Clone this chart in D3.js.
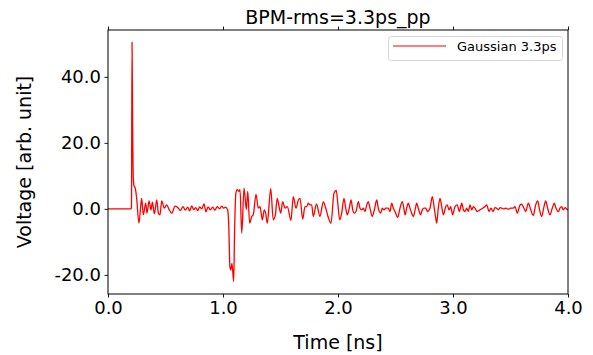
<!DOCTYPE html>
<html>
<head>
<meta charset="utf-8">
<script src="https://cdn.jsdelivr.net/npm/d3@7"></script>
<style>
  body { margin: 0; background: #fff; }
  svg { display: block; font-family: "DejaVu Sans", sans-serif; }
</style>
</head>
<body>
<div id="chart"></div>
<script>
// signal: [time ns, voltage arb. unit]
const gaussian33 = [
  [0,0],[0.200,0],[0.204,0.5],[0.209,50.5],[0.214,25],[0.219,10],[0.226,7],[0.237,6.3],
  [0.249,3.2],[0.269,-4.3],[0.284,0.7],[0.293,3.2],[0.307,-1.8],[0.328,1.7],[0.339,-1.3],
  [0.357,2.4],[0.374,-0.3],[0.386,2.0],[0.403,-1.5],[0.424,2.7],[0.438,-1.3],[0.452,-1.8],
  [0.467,2.4],[0.490,0.2],[0.510,1.2],[0.533,-0.3],[0.554,-1.3],[0.583,0.8],[0.606,0.4],
  [0.630,-0.5],[0.652,0.7],[0.672,-0.4],[0.693,0.5],[0.710,-0.6],[0.728,0.9],[0.745,-0.2],
  [0.762,0.4],[0.780,-0.5],[0.797,0.6],[0.815,0.0],[0.835,1.5],[0.852,-0.9],[0.870,0.6],
  [0.890,-0.3],[0.910,0.5],[0.930,-0.4],[0.950,0.7],[0.970,0.0],[0.990,0.8],[1.005,0.2],
  [1.020,0.5],[1.040,-0.3],[1.050,-5],[1.060,-17.5],[1.068,-18.5],[1.078,-16.5],[1.093,-22],
  [1.100,-8],[1.112,4.8],[1.124,5.8],[1.139,5.3],[1.148,5.8],[1.163,-7.4],[1.183,6.3],
  [1.203,-0.2],[1.215,5.3],[1.232,-4.3],[1.250,-2.3],[1.263,-1.8],[1.287,4.4],[1.307,0.2],
  [1.322,0.7],[1.342,-3.3],[1.359,-0.3],[1.371,-1.3],[1.385,-4.3],[1.415,6.1],[1.437,-3.3],
  [1.455,-1.8],[1.472,3.2],[1.490,0.2],[1.502,-1.3],[1.519,2.2],[1.539,0.2],[1.559,0.7],
  [1.591,-3.5],[1.611,3.7],[1.635,0.2],[1.655,2.7],[1.670,3.2],[1.693,-3.1],[1.713,0.7],
  [1.728,0.7],[1.742,1.7],[1.757,1.2],[1.771,1.2],[1.785,-2.3],[1.813,1.5],[1.843,-2.3],
  [1.872,2.1],[1.891,0.5],[1.913,-2.3],[1.939,-4.4],[1.965,4.7],[1.985,5.6],[2.000,1.0],
  [2.015,-3.3],[2.032,-1.3],[2.052,3.2],[2.067,0.2],[2.081,-1.8],[2.098,0.2],[2.113,2.7],
  [2.128,-0.3],[2.142,-1.3],[2.157,-0.8],[2.177,2.2],[2.191,0.2],[2.206,-0.3],[2.220,0.2],
  [2.235,-0.8],[2.250,1.2],[2.263,2.2],[2.278,0.2],[2.298,-2.3],[2.316,-0.3],[2.337,2.7],
  [2.350,0.2],[2.371,-1.3],[2.385,0.2],[2.400,-0.3],[2.415,0.2],[2.437,0.2],[2.452,-0.8],
  [2.467,1.7],[2.481,0.2],[2.496,-0.8],[2.519,-2.6],[2.539,0.2],[2.559,2.2],[2.577,-0.8],
  [2.583,-1.8],[2.597,0.2],[2.611,1.7],[2.626,0.2],[2.641,-1.3],[2.655,-2.3],[2.676,0.7],
  [2.684,1.7],[2.698,0.2],[2.719,-1.8],[2.733,-0.3],[2.748,0.2],[2.763,0.2],[2.777,-0.8],
  [2.800,0.2],[2.820,3.7],[2.837,0.2],[2.850,-2.8],[2.858,-4.3],[2.872,0.2],[2.887,3.2],
  [2.902,0.7],[2.916,-1.8],[2.937,0.7],[2.950,1.2],[2.965,-0.3],[2.980,0.7],[2.997,-1.8],
  [3.017,0.7],[3.037,1.2],[3.055,-0.8],[3.076,1.7],[3.090,-0.3],[3.104,-0.8],[3.119,0.2],
  [3.133,-0.8],[3.148,1.2],[3.163,-0.3],[3.177,0.7],[3.191,0.2],[3.211,-0.8],[3.235,-0.3],
  [3.258,0.2],[3.278,0.7],[3.293,1.2],[3.313,-0.8],[3.330,0.2],[3.348,-0.8],[3.365,0.4],
  [3.380,0.2],[3.394,-0.3],[3.409,0.4],[3.423,0.2],[3.437,0.0],[3.458,0.2],[3.481,-0.1],
  [3.502,0.2],[3.524,0.2],[3.539,0.7],[3.559,-1.3],[3.583,1.2],[3.597,1.4],[3.617,0.2],
  [3.632,-0.8],[3.655,1.7],[3.676,-0.3],[3.698,-2.0],[3.719,1.2],[3.737,2.4],[3.750,0.2],
  [3.771,-2.3],[3.791,0.7],[3.806,2.4],[3.823,0.2],[3.843,-1.8],[3.863,0.2],[3.881,1.7],
  [3.896,0.2],[3.916,-0.8],[3.930,0.2],[3.945,0.7],[3.959,-0.3],[3.974,0.4],[3.997,-0.3],
  [4.0,0]
];

const xTicks = [0, 1, 2, 3, 4];
const yTicks = [-20, 0, 20, 40];
const seriesName = "Gaussian 3.3ps";
const title = "BPM-rms=3.3ps_pp";
const xLabel = "Time [ns]";
const yLabel = "Voltage [arb. unit]";

const W = 593, H = 355;
const margin = {top: 30, right: 25, bottom: 61, left: 108};
const width = W - margin.left - margin.right;
const height = H - margin.top - margin.bottom;

const svg = d3.select('#chart').append('svg')
  .attr('width', W)
  .attr('height', H);

const g = svg.append('g')
  .attr('transform', 'translate(' + margin.left + ',' + margin.top + ')');

const x = d3.scaleLinear().domain([0, 4]).range([0, width]);
const y = d3.scaleLinear().domain([-25.8, 54.2]).range([height, 0]);

svg.append('defs').append('clipPath').attr('id', 'clip')
  .append('rect').attr('width', width).attr('height', height);

// samples are sparse, so a monotone curve gives the rounded look of the original trace
const line = d3.line()
  .curve(d3.curveMonotoneX)
  .x(d => x(d[0]))
  .y(d => y(d[1]));

g.append('path')
  .datum(gaussian33)
  .attr('clip-path', 'url(#clip)')
  .attr('fill', 'none')
  .attr('stroke', '#ff0000')
  .attr('stroke-width', 1.3)
  .attr('stroke-linejoin', 'round')
  .attr('d', line);

// axes
const xAxis = g.append('g')
  .attr('transform', 'translate(0,' + height + ')')
  .call(d3.axisBottom(x).tickValues(xTicks).tickFormat(d => d.toFixed(1)).tickSize(3.5).tickPadding(3.5));

const xTop = g.append('g')
  .call(d3.axisTop(x).tickValues(xTicks).tickFormat('').tickSize(3.5));

const yAxis = g.append('g')
  .call(d3.axisLeft(y).tickValues(yTicks).tickFormat(d => d.toFixed(1)).tickSize(3.5).tickPadding(3.5));

[xAxis, xTop, yAxis].forEach(a => {
  a.select('.domain').remove();
  a.selectAll('line').attr('stroke', '#000').attr('stroke-width', 0.9);
  a.selectAll('text').attr('fill', '#000').style('font-size', '18px')
    .style('font-family', '"DejaVu Sans", sans-serif');
});

// spines
g.append('rect')
  .attr('width', width)
  .attr('height', height)
  .attr('fill', 'none')
  .attr('stroke', '#000')
  .attr('stroke-width', 1);

svg.append('text')
  .attr('x', margin.left + width / 2)
  .attr('y', 24)
  .attr('text-anchor', 'middle')
  .style('font-size', '19px')
  .text(title);

svg.append('text')
  .attr('x', margin.left + width / 2)
  .attr('y', 349)
  .attr('text-anchor', 'middle')
  .style('font-size', '19px')
  .text(xLabel);

svg.append('text')
  .attr('transform', 'translate(31,' + (margin.top + height / 2) + ') rotate(-90)')
  .attr('text-anchor', 'middle')
  .style('font-size', '19px')
  .text(yLabel);

// legend
const lg = svg.append('g');
lg.append('rect')
  .attr('x', 388.5).attr('y', 36.5)
  .attr('width', 174).attr('height', 24)
  .attr('rx', 3)
  .attr('fill', '#fff').attr('fill-opacity', 0.8)
  .attr('stroke', '#d6d6d6');
lg.append('line')
  .attr('x1', 393).attr('x2', 446)
  .attr('y1', 46).attr('y2', 46)
  .attr('stroke', '#ff0000').attr('stroke-width', 1);
lg.append('text')
  .attr('x', 457).attr('y', 51)
  .style('font-size', '13px')
  .text(seriesName);
</script>
</body>
</html>
